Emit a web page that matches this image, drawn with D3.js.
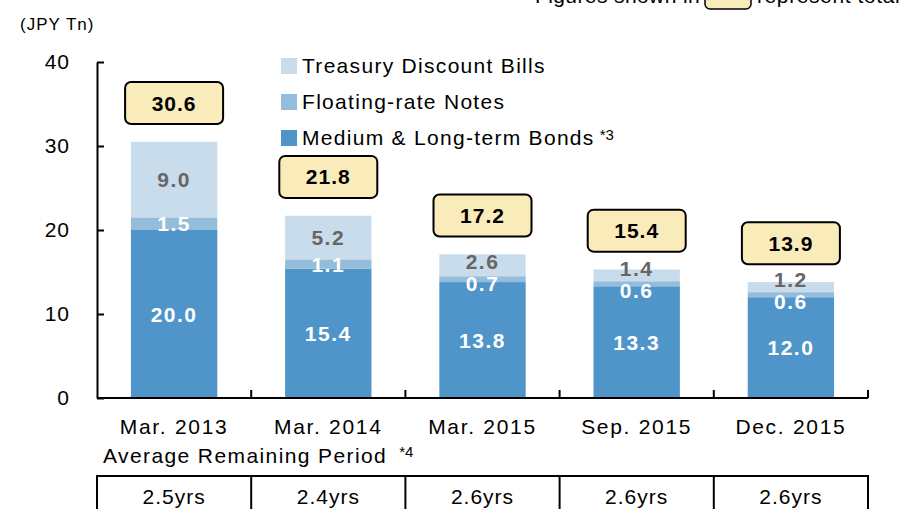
<!DOCTYPE html>
<html>
<head>
<meta charset="utf-8">
<script src="https://cdn.jsdelivr.net/npm/d3@7"></script>
<style>
    body { margin: 0; background: #fff; }
    svg { display: block; font-family: 'Liberation Sans', Arial, sans-serif; }
</style>
</head>
<body>
<div id="chart"></div>
<script>
const categories = ['Mar. 2013', 'Mar. 2014', 'Mar. 2015', 'Sep. 2015', 'Dec. 2015'];
const mediumLong = [20.0, 15.4, 13.8, 13.3, 12.0];
const floatingRate = [1.5, 1.1, 0.7, 0.6, 0.6];
const discountBills = [9.0, 5.2, 2.6, 1.4, 1.2];
const totals = [30.6, 21.8, 17.2, 15.4, 13.9];
const remainingPeriod = ['2.5yrs', '2.4yrs', '2.6yrs', '2.6yrs', '2.6yrs'];
const yTicks = [0, 10, 20, 30, 40];
const seriesNames = ['Treasury Discount Bills', 'Floating-rate Notes', 'Medium & Long-term Bonds'];

const width = 905;
const height = 509;
const colors = { ml: '#4f95c9', fr: '#94bcdb', tb: '#c9dcec' };

const svg = d3.select('#chart')
    .append('svg')
    .attr('width', width)
    .attr('height', height);

const x = d3.scaleBand()
    .domain(categories)
    .range([97, 868])
    .paddingInner(0.44)
    .paddingOuter(0.22);

// plain band scale for the cell borders and axis ticks
const xCell = d3.scaleBand()
    .domain(categories)
    .range([97, 868]);

const y = d3.scaleLinear()
    .domain([0, 40])
    .range([398, 62]);

const rows = categories.map((c, i) => ({
    cat: c, ml: mediumLong[i], fr: floatingRate[i], tb: discountBills[i], total: totals[i]
}));
const stack = d3.stack().keys(['ml', 'fr', 'tb'])(rows);

// bars
stack.forEach(layer => {
    svg.append('g')
        .selectAll('rect')
        .data(layer)
        .enter().append('rect')
        .attr('x', d => x(d.data.cat))
        .attr('width', x.bandwidth())
        .attr('y', d => y(d[1]))
        .attr('height', d => y(d[0]) - y(d[1]))
        .attr('fill', colors[layer.key]);
});

// segment labels (small ones pushed apart)
rows.forEach((r, i) => {
    const cx = x(r.cat) + x.bandwidth() / 2;
    let yMl = y(r.ml / 2);
    let yFr = y(r.ml + r.fr / 2);
    let yTb = y(r.ml + r.fr + r.tb / 2);
    if (yFr - yTb < 18) {
        const mid = (yFr + yTb) / 2;
        yFr = mid + 11;
        yTb = mid - 11;
    }
    const labels = [
        { v: r.ml, y: yMl, c: '#fff' },
        { v: r.fr, y: yFr, c: '#fff' },
        { v: r.tb, y: yTb, c: '#666' }
    ];
    labels.forEach(l => {
        svg.append('text')
            .attr('x', cx)
            .attr('y', l.y)
            .attr('dy', '0.36em')
            .attr('text-anchor', 'middle')
            .style('font-size', '21px')
            .style('font-weight', 'bold')
            .style('letter-spacing', '1.5px')
            .attr('fill', l.c)
            .text(l.v.toFixed(1));
    });
});

// total boxes
const totalG = svg.append('g')
    .selectAll('g')
    .data(rows)
    .enter().append('g')
    .attr('transform', d => `translate(${x(d.cat) + x.bandwidth() / 2},${y(d.total) - 38})`);

totalG.append('rect')
    .attr('x', -49)
    .attr('y', -21)
    .attr('width', 98)
    .attr('height', 42)
    .attr('rx', 6)
    .attr('fill', '#f9ebba')
    .attr('stroke', '#000')
    .attr('stroke-width', 2);

totalG.append('text')
    .attr('text-anchor', 'middle')
    .attr('dy', '0.36em')
    .style('font-size', '21px')
    .style('font-weight', 'bold')
    .style('letter-spacing', '1px')
    .text(d => d.total.toFixed(1));

// y axis
const yAxis = svg.append('g')
    .attr('transform', 'translate(97,0)')
    .call(d3.axisLeft(y).tickValues(yTicks).tickSizeInner(-7).tickSizeOuter(0).tickPadding(27));
yAxis.select('.domain').attr('stroke', '#000').attr('stroke-width', 2);
yAxis.selectAll('.tick line').attr('stroke', '#000').attr('stroke-width', 2);
yAxis.selectAll('.tick text')
    .attr('fill', '#000')
    .style('font-size', '21px')
    .style('letter-spacing', '1px')
    .style('font-family', "'Liberation Sans', Arial, sans-serif");

// x axis line and boundary ticks
svg.append('line')
    .attr('x1', xCell.range()[0]).attr('x2', xCell.range()[1])
    .attr('y1', y(0)).attr('y2', y(0))
    .attr('stroke', '#000').attr('stroke-width', 2);

const bounds = categories.slice(1).map(c => xCell(c)).concat([xCell.range()[1]]);
svg.append('g')
    .selectAll('line')
    .data(bounds)
    .enter().append('line')
    .attr('x1', d => d).attr('x2', d => d)
    .attr('y1', y(0)).attr('y2', y(0) - 8)
    .attr('stroke', '#000').attr('stroke-width', 2);

svg.append('g')
    .selectAll('text')
    .data(categories)
    .enter().append('text')
    .attr('x', d => x(d) + x.bandwidth() / 2)
    .attr('y', 434)
    .attr('text-anchor', 'middle')
    .style('font-size', '21px')
    .style('letter-spacing', '1.7px')
    .text(d => d);

// unit label
svg.append('text')
    .attr('x', 20)
    .attr('y', 30)
    .style('font-size', '17px')
    .style('letter-spacing', '1px')
    .text('(JPY Tn)');

// legend
const legend = svg.append('g')
    .selectAll('g')
    .data(seriesNames)
    .enter().append('g')
    .attr('transform', (d, i) => `translate(281,${58 + i * 36})`);

legend.append('rect')
    .attr('width', 16)
    .attr('height', 16)
    .attr('fill', (d, i) => [colors.tb, colors.fr, colors.ml][i]);

const legendText = legend.append('text')
    .attr('x', 21)
    .attr('y', 15)
    .style('font-size', '21px')
    .style('letter-spacing', '1.3px')
    .text(d => d);

const bondsEnd = 281 + 21 + legendText.nodes()[2].getComputedTextLength();
svg.append('text')
    .attr('x', bondsEnd + 5)
    .attr('y', 140)
    .style('font-size', '15px')
    .text('*3');

// top note
const note = svg.append('g');
note.append('text')
    .attr('x', 535)
    .attr('y', 3)
    .style('font-size', '21px')
    .style('letter-spacing', '0.4px')
    .text('Figures shown in');
note.append('rect')
    .attr('x', 705)
    .attr('y', -12)
    .attr('width', 46)
    .attr('height', 21)
    .attr('rx', 5)
    .attr('fill', '#f9ebba')
    .attr('stroke', '#000')
    .attr('stroke-width', 1.5);
note.append('text')
    .attr('x', 757)
    .attr('y', 3)
    .style('font-size', '21px')
    .style('letter-spacing', '0.6px')
    .text('represent total');

// average remaining period table
const avgText = svg.append('text')
    .attr('x', 103)
    .attr('y', 463)
    .style('font-size', '21px')
    .style('letter-spacing', '1.4px')
    .text('Average Remaining Period');
svg.append('text')
    .attr('x', 103 + avgText.node().getComputedTextLength() + 12)
    .attr('y', 457)
    .style('font-size', '15px')
    .text('*4');

svg.append('line')
    .attr('x1', xCell.range()[0]).attr('x2', xCell.range()[1])
    .attr('y1', 476).attr('y2', 476)
    .attr('stroke', '#000').attr('stroke-width', 2);

svg.append('g')
    .selectAll('line')
    .data([xCell.range()[0]].concat(bounds))
    .enter().append('line')
    .attr('x1', d => d).attr('x2', d => d)
    .attr('y1', 475).attr('y2', height + 5)
    .attr('stroke', '#000').attr('stroke-width', 2);

svg.append('g')
    .selectAll('text')
    .data(remainingPeriod)
    .enter().append('text')
    .attr('x', (d, i) => xCell(categories[i]) + xCell.bandwidth() / 2)
    .attr('y', 504)
    .attr('text-anchor', 'middle')
    .style('font-size', '21px')
    .style('letter-spacing', '1px')
    .text(d => d);
</script>
</body>
</html>
